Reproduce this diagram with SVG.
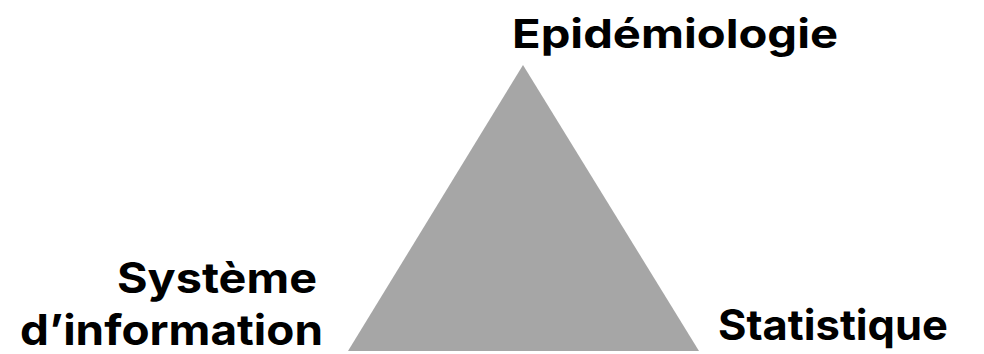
<svg xmlns="http://www.w3.org/2000/svg" width="984" height="354" viewBox="0 0 984 354">
<style>
.lbl{font-family:"Inter","DejaVu Sans","Liberation Sans",sans-serif;font-weight:700;font-size:40px;fill:#000;font-variant-ligatures:none}
.low{font-size:42px}
</style>
<rect width="984" height="354" fill="#fff"/>
<g id="triangle">
<polygon points="523,65 348,351 699,351" fill="#a6a6a6"/>
</g>
<g id="node-epidemiologie">
<text class="lbl" x="512" y="48" textLength="326" lengthAdjust="spacingAndGlyphs">Epidémiologie</text>
</g>
<g id="node-systeme">
<text class="lbl low" x="117" y="293" textLength="200" lengthAdjust="spacingAndGlyphs">Système</text>
<text class="lbl low" x="20" y="345" textLength="303" lengthAdjust="spacingAndGlyphs">d’information</text>
</g>
<g id="node-statistique">
<text class="lbl low" x="718" y="340" textLength="230" lengthAdjust="spacingAndGlyphs">Statistique</text>
</g>
<g id="connectors"></g>
</svg>
